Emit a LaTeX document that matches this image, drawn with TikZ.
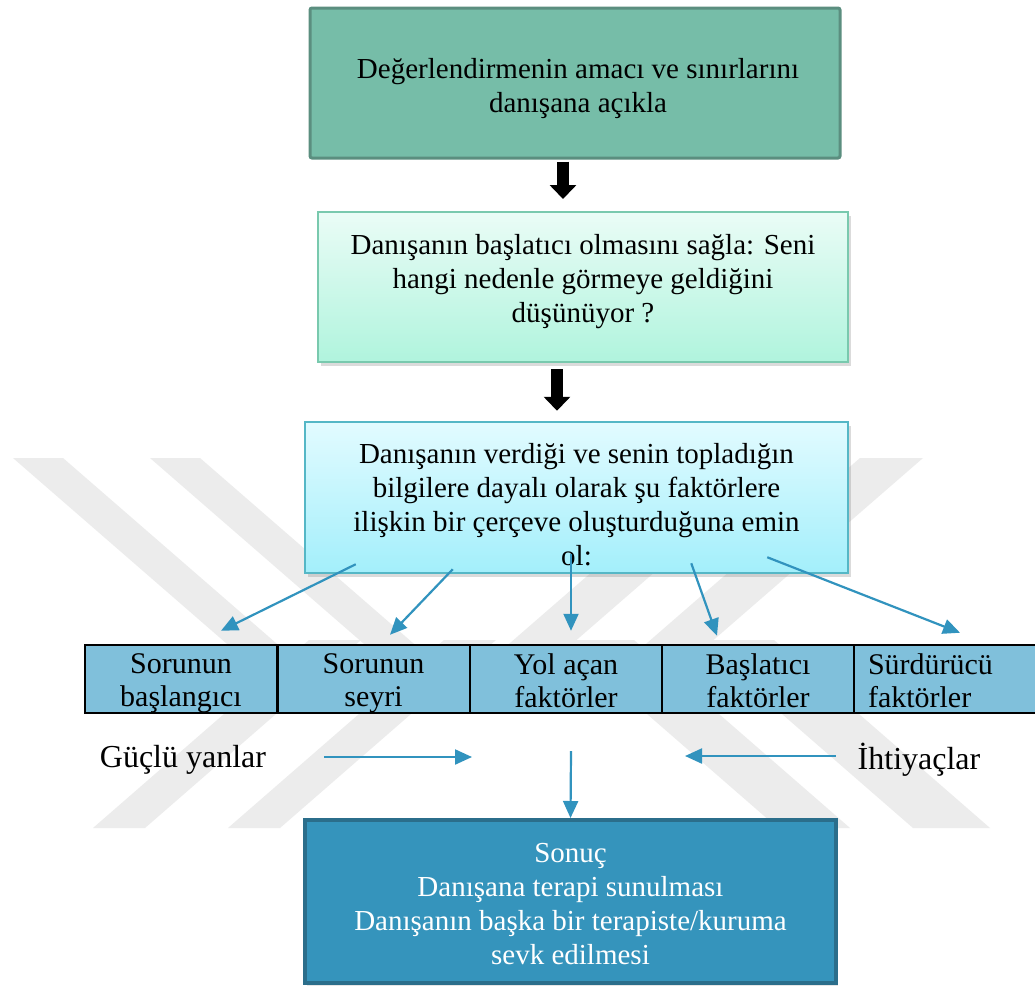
\documentclass[tikz,border=0pt]{standalone}
\usepackage{fontspec}
\setmainfont{Liberation Serif}
\usetikzlibrary{arrows.meta,shadows}

\definecolor{boxone}{HTML}{76BDA8}
\definecolor{boxoneline}{HTML}{5B8E7F}
\definecolor{mintTop}{HTML}{EAFCF6}
\definecolor{mintBot}{HTML}{B0F4DD}
\definecolor{mintLine}{HTML}{79C9AE}
\definecolor{skyTop}{HTML}{E2FBFF}
\definecolor{skyBot}{HTML}{A3EFFB}
\definecolor{skyLine}{HTML}{55B7C6}
\definecolor{cellfill}{HTML}{80C0DB}
\definecolor{flow}{HTML}{3193BE}
\definecolor{resfill}{HTML}{3594BC}
\definecolor{resline}{HTML}{2B6E8B}
\definecolor{wmgray}{HTML}{ECECEC}

% struts that give every two-line cell the same vertical extent
\newcommand{\celltop}{\rule{0pt}{28pt}}
\newcommand{\cellbot}{\rule[-4pt]{0pt}{4pt}}

\tikzset{
  txt/.style={font=\fontsize{29}{34}\selectfont, align=center, inner sep=0pt},
  lbl/.style={font=\fontsize{32}{36}\selectfont, inner sep=0pt},
  firstbox/.style={draw=boxoneline, line width=3pt, fill=boxone, rounded corners=2pt,
    minimum width=530pt, minimum height=150pt, inner sep=0pt},
  mintbox/.style={draw=mintLine, line width=2pt, top color=mintTop, bottom color=mintBot,
    drop shadow={shadow xshift=3pt, shadow yshift=-4pt, opacity=0.28},
    minimum width=530pt, minimum height=150pt, inner sep=0pt},
  skybox/.style={draw=skyLine, line width=2.5pt, top color=skyTop, bottom color=skyBot,
    drop shadow={shadow xshift=3pt, shadow yshift=-4pt, opacity=0.28},
    minimum width=543pt, minimum height=151pt, inner sep=0pt},
  resbox/.style={draw=resline, line width=4pt, fill=resfill,
    drop shadow={shadow xshift=2pt, shadow yshift=-3pt, opacity=0.2},
    minimum width=531pt, minimum height=163pt, inner sep=0pt},
  cell/.style={draw=black, line width=2.5pt, fill=cellfill, minimum width=192.5pt,
    minimum height=68pt, inner sep=0pt, font=\fontsize{30}{33}\selectfont, align=center},
  blockarrow/.style={line width=12pt, -{Triangle[length=14pt,width=26pt]}},
  flowarrow/.style={draw=flow, line width=2.2pt, -{Triangle[length=17pt,width=15pt]}},
  wm/.style={fill=wmgray}
}

\begin{document}
\begin{tikzpicture}[x=1pt,y=-1pt]
\useasboundingbox (0,0) rectangle (1035,985);
\fill[white] (0,0) rectangle (1035,985);

% faint diagonal watermark stripes
\fill[wm] (13,458) -- (63,458) -- (284,650) -- (234,650) -- cycle;
\fill[wm] (150,458) -- (200,458) -- (421,650) -- (371,650) -- cycle;
\fill[wm] (93,828) -- (145,828) -- (361,640) -- (309,640) -- cycle;
\fill[wm] (228,828) -- (280,828) -- (496,640) -- (444,640) -- cycle;
\fill[wm] (860,458) -- (923,458) -- (702,650) -- (639,650) -- cycle;
\fill[wm] (723,458) -- (786,458) -- (565,650) -- (502,650) -- cycle;
\fill[wm] (913,828) -- (990,828) -- (774,640) -- (697,640) -- cycle;
\fill[wm] (778,828) -- (850,828) -- (634,640) -- (562,640) -- cycle;

% process boxes
\node[firstbox] (b1) at (575,83) {};
\node[txt] (t1) at (578,89) {Değerlendirmenin amacı ve sınırlarını\\danışana açıkla};

\node[mintbox] (b2) at (583,287) {};
\node[txt] (t2) at (583,282) {Danışanın başlatıcı olmasını sağla: Seni\\hangi nedenle görmeye geldiğini\\düşünüyor ?};

\node[skybox] (b3) at (576.5,497.5) {};
\node[txt] (t3) at (576.5,505) {Danışanın verdiği ve senin topladığın\\bilgilere dayalı olarak şu faktörlere\\ilişkin bir çerçeve oluşturduğuna emin\\ol:};

% factor table
\node[cell] (c1) at (181,679) {\celltop Sorunun\\başlangıcı\cellbot};
\node[cell] (c2) at (373.5,679) {\celltop Sorunun\\seyri\cellbot};
\node[cell] (c3) at (566,679) {\celltop Yol açan\\faktörler\cellbot};
\node[cell] (c4) at (758,679) {\celltop Başlatıcı\\faktörler\cellbot};
\node[cell, minimum width=206pt, text width=178pt, align=left] (c5) at (957,679)
  {\celltop Sürdürücü\\faktörler\cellbot};

% side labels
\node[lbl] (gy) at (183,760) {Güçlü yanlar};
\node[lbl] (ih) at (919,760) {İhtiyaçlar};

% result box
\node[resbox] (b4) at (570.5,901.5) {};
\node[txt, text=white] (t4) at (570.5,904) {Sonuç\\Danışana terapi sunulması\\Danışanın başka bir terapiste/kuruma\\sevk edilmesi};

% black block arrows
\draw[blockarrow] ([shift={(-12,2)}]b1.south) -- ([shift={(-20,-12)}]b2.north);
\draw[blockarrow] ([shift={(-26,6)}]b2.south) -- ([shift={(-19.5,-10)}]b3.north);

% arrows to the factors
\draw[flowarrow] ([shift={(52,-10)}]b3.south west) -- ([shift={(40,-13)}]c1.north);
\draw[flowarrow] ([shift={(149,-5)}]b3.south west) -- ([shift={(16.5,-9)}]c2.north);
\draw[flowarrow] ([shift={(-5.5,-20)}]b3.south) -- ([shift={(5,-13)}]c3.north);
\draw[flowarrow] ([shift={(-158,-11)}]b3.south east) -- ([shift={(-41,-8)}]c4.north);
\draw[flowarrow] ([shift={(-82,-17)}]b3.south east) -- ([shift={(3,-11)}]c5.north);

% arrows towards the result
\coordinate (gyend) at (472,757);
\coordinate (ihend) at (685,756);
\coordinate (dstart) at (571,751);
\draw[flowarrow] ([xshift=58pt,yshift=3pt]gy.east) -- (gyend);
\draw[flowarrow] ([xshift=-22pt,yshift=4pt]ih.west) -- (ihend);
\draw[flowarrow] (dstart) -- (b4.north);
\end{tikzpicture}
\end{document}
